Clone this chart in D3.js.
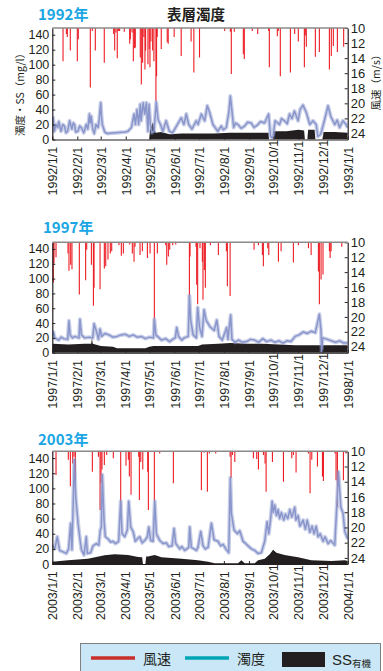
<!DOCTYPE html>
<html>
<head>
<meta charset="utf-8">
<script src="https://cdn.jsdelivr.net/npm/d3@7"></script>
<style>
  body { margin: 0; background: #fff; }
  svg { display: block; }
</style>
</head>
<body>
<div id="chart"></div>
<script>
// ---- data (day of year, value) ----
const turbTicks = [0, 20, 40, 60, 80, 100, 120, 140];
const windTicks = [10, 12, 14, 16, 18, 20, 22, 24];

const wind1992 = [[13.3,14.4],[17.4,10.8],[18.6,11.2],[22.3,13.0],[31,14.4],[32.2,11.5],[47.1,17.9],[49.6,10.4],[53.3,13.0],[64.4,14.6],[76,10.8],[77.3,13.0],[78.9,10.6],[80.5,14.0],[82.2,10.4],[83.4,10.4],[89.2,10.5],[95.9,12.1],[96.7,11.5],[98.8,10.6],[100.4,14.4],[102,12.7],[102.8,12.6],[109,13.9],[110.3,17.5],[111.9,14.6],[113.5,11.2],[114.8,15.5],[115.6,13.0],[118.5,14.8],[120.1,12.8],[121,15.2],[122.2,11.8],[124.3,13.0],[125.9,14.4],[128.4,19.7],[129.2,16.4],[130,11.2],[135,12.8],[142.4,11.9],[143.6,12.1],[151,11.2],[159.7,13.7],[172,11.8],[175.4,15.9],[182.4,13.9],[213.6,10.4],[220.6,10.5],[221.8,16.1],[225.5,10.5],[236.7,13.5],[237.9,14.1],[247.8,10.4],[254.5,10.8],[268.1,10.4],[268.9,15.2],[278.8,11.1],[280,10.4],[282.5,16.4],[295,15.9],[300.3,10.8],[304.8,11.8],[312.3,15.2],[313.5,11.0],[314.7,12.5],[325.9,13.8],[330.9,13.2],[343.3,15.5],[345.7,13.7],[348.2,12.4],[353.2,13.2],[361,12.5]];
const turb1992 = [[0,20],[1,29],[2.5,11],[4.6,20],[6.7,16],[8,24],[10.8,11],[13,20],[15,18],[17,9],[19,11],[21.4,25],[24.3,14],[26,22],[27.6,20],[29,10],[31.7,11],[34,18],[35.9,16],[39,9],[42,20],[44,14],[46,34],[47,22],[48.3,31],[50,14],[52,8],[54,20],[56.7,16],[58,26],[60,49],[61,30],[62,20],[65,10],[68,8],[90,10],[93.8,11],[98,16],[100,27],[101.3,34],[103,20],[105,40],[107,20],[109,47],[110,25],[112.5,49],[114.5,34],[116.5,49],[118.5,11],[119.8,47],[121.5,20],[123.5,9],[126,11],[128.8,50],[131,27],[134,20],[137,11],[141,25],[145,11],[149,9],[155,20],[159.7,29],[163,20],[166,34],[169,20],[173,14],[178.4,25],[180.5,20],[184.7,34],[188.8,25],[192,45],[195,36],[199,20],[205,11],[209.4,18],[212,13],[215.6,16],[218.9,38],[220.6,58],[222.6,38],[224.7,16],[227,22],[230,20],[234,15],[238.3,18],[242,23],[246.5,22],[250,16],[254.8,20],[258,24],[263,22],[268,34],[270.4,4],[273.3,2],[276,25],[281.5,20],[284,28],[287.7,25],[291,21],[293.9,34],[297,28],[300,38],[304.5,25],[307,40],[310.6,46],[314.7,36],[319,20],[323,25],[327,20],[329,4],[332.6,7],[337.5,27],[341.6,45],[345,31],[350,20],[353,26],[356,16],[360,25],[364,20],[366,16]];
const ss1992 = [[0,0],[120,0],[121,12],[123,18],[124.7,23],[126,15],[128,9],[135,10],[145,7],[160,8],[180,8],[200,8],[220,9],[240,9],[260,9],[268,9],[268.5,0],[274.5,0],[275,11],[290,11],[305,13],[312,12],[313,0],[316,0],[317,13],[325,13],[326,0],[335,0],[336,10],[350,10],[366,9]];

const wind1997 = [[1.3,15.4],[2.1,12.8],[4.6,12.0],[19.4,11.5],[20.6,13.8],[22.7,13.0],[24.3,13.6],[33.4,17.0],[41.2,15.1],[42.5,11.0],[48.3,13.0],[50.8,18.5],[51.6,16.1],[59,16.3],[64.3,13.5],[66,13.2],[68.8,12.3],[71.7,11.5],[73.4,11.2],[82.4,10.4],[85.3,11.8],[87.8,11.5],[95.6,10.3],[98.9,11.5],[101,12.6],[102.2,10.6],[108.4,11.7],[111.3,11.2],[117.5,12.1],[120.8,11.5],[126.1,21.4],[129.8,11.5],[140.1,10.4],[141.4,13.0],[143.4,11.9],[145.1,11.0],[148.8,10.4],[152.5,10.3],[155.4,10.1],[169.4,17.9],[170.2,11.9],[177.6,10.6],[178.4,15.7],[179.6,18.3],[182.5,10.8],[185.4,12.6],[186.2,17.7],[187.9,13.7],[189.1,16.1],[195.3,10.4],[205.2,11.7],[215.1,11.2],[216.3,15.9],[219.7,17.2],[249.3,11.0],[254.7,10.4],[256.3,10.1],[259.6,11.7],[260.8,13.2],[266.2,10.8],[267.5,11.7],[279.4,12.6],[282.7,11.2],[297.9,12.7],[304.1,10.4],[316.5,10.8],[319.8,11.7],[328.8,13.9],[330,18.3],[332.1,15.0],[334.5,14.3],[342.4,11.2],[343.3,12.1],[344.5,11.2],[357.7,10.6]];
const turb1997 = [[0,22],[1.3,28],[3,20],[8,17],[11,21],[14,19],[19,18],[20.6,43],[22,24],[25,20],[28,22],[33,20],[34.2,45],[36,24],[40,20],[45,21],[50,20],[51.6,39],[55,27],[57,18],[59,32],[61,22],[65,26],[70,24],[75,21],[80,22],[85,24],[90,25],[95,22],[100,24],[105,21],[110,22],[115,19],[120,21],[125,20],[126.1,45],[128,24],[132,20],[135,17],[140,19],[145,15],[150,19],[152,20],[153.7,34],[156,22],[160,17],[163,20],[168,22],[169.4,77],[171,44],[174,24],[178,20],[179.6,61],[182,34],[185,22],[187.5,58],[190,44],[195,35],[200,30],[203.2,44],[206,22],[210,17],[215.5,34],[217,18],[220.4,51],[222,18],[226,14],[230,17],[235,14],[240,15],[245,18],[250,17],[255,14],[260,19],[265,15],[270,17],[275,14],[280,16],[285,13],[290,16],[295,15],[300,22],[305,24],[310,28],[315,26],[320,29],[325,27],[330,52],[332,30],[332.8,1],[334,20],[340,18],[345,16],[350,14],[355,16],[360,13],[365,13]];
const ss1997 = [[0,12],[20,11],[40,12],[48,12],[49,20],[50,12],[60,9],[75,8],[80,6],[115,6],[120,8],[125,9],[150,9],[180,9],[185,11],[205,12],[220,13],[240,12],[260,12],[280,11],[300,10],[330,10],[365,10]];

const wind2003 = [[0.1,10.3],[4.6,13.1],[19.8,11.1],[22.3,14.6],[25.2,11.6],[26.8,10.7],[28.5,14.0],[49.5,12.7],[57,10.7],[59,17.7],[60.2,14.2],[61.4,12.4],[64.3,11.8],[67.2,10.5],[75.4,10.9],[84.5,17.5],[91.1,11.9],[94,11.1],[95.2,13.3],[97.3,15.7],[106.8,10.7],[107.6,16.4],[109.3,11.4],[111.8,12.4],[117.9,12.7],[118.7,17.7],[126.1,16.5],[132.7,10.3],[149.6,14.2],[184.2,15.1],[187.5,10.2],[191.6,15.3],[194.1,10.3],[201.9,10.3],[219.7,10.7],[220.9,13.5],[222.6,10.5],[225.5,11.4],[248.5,10.9],[252.6,11.0],[254.7,12.4],[260.9,10.5],[262.9,11.6],[264.2,15.3],[272,11.4],[285.6,14.0],[295.9,10.9],[297.9,10.5],[301.2,12.8],[316.5,10.3],[318.5,15.5],[320.6,11.1],[327.6,12.0],[333.8,13.3],[335,13.9],[349.4,10.3],[350.6,13.8],[352.3,17.3],[359.7,13.8],[363,10.3]];
const turb2003 = [[0,25],[3,20],[6.2,36],[9,18],[13.2,16],[17.3,14],[20.2,20],[22.7,54],[24.3,19],[27.2,138],[28.9,89],[31.8,54],[33.8,36],[35.9,19],[39.2,12],[42,36],[43.3,14],[47.4,15],[50.3,24],[54.4,27],[57.4,25],[59.3,45],[60.6,49],[61.8,118],[63.9,58],[65.5,36],[68.9,33],[72,29],[75,30],[78,27],[82,30],[84.5,83],[86.2,40],[89.5,36],[92.7,45],[94.4,83],[96.9,49],[99.8,43],[102.6,30],[105,33],[108,36],[111,28],[114.2,31],[117.4,36],[119.2,49],[121.6,31],[124.5,30],[126.6,83],[128.6,40],[132.8,31],[137,27],[140.9,28],[144,23],[148,24],[150.4,47],[152.5,27],[157.5,20],[160,23],[163.7,18],[168.6,22],[169.8,49],[171.8,22],[175,20],[178,18],[180,22],[183.4,43],[186.3,24],[189,20],[192.5,22],[196.6,54],[199.9,32],[204.8,30],[208,24],[211,26],[215,19],[218,15],[220,114],[221.3,67],[224.6,45],[228.7,40],[231.6,44],[235.7,30],[239,27],[241.9,24],[246,20],[250.2,18],[254,14],[258.3,15],[262.5,30],[265.4,56],[267.5,40],[270,62],[271.6,83],[273,68],[274.9,78],[277,64],[279,72],[281,60],[283.1,68],[286,58],[288,66],[291,60],[293.4,72],[296,62],[299.6,75],[301,58],[303.7,64],[306,50],[309.9,58],[312.7,46],[315,58],[318.2,42],[321,50],[323.5,40],[326,50],[328.4,36],[331,40],[334.6,30],[337,36],[340.8,27],[344,31],[349,25],[352.3,92],[353.5,122],[356.5,75],[359.3,67],[361.4,43],[365,33]];
const ss2003 = [[0,3],[19.4,5],[44,7],[64.7,11.5],[77,13],[93.6,12],[106,9.4],[111,9],[112,0],[115,0],[116,10],[118.3,10],[126.6,12],[134.8,9],[159.5,7],[180,5],[192.5,3],[200.7,1],[229.5,1],[233.6,5],[237.8,1],[250,1],[254.3,5],[262.5,7],[268.7,13],[272.8,19],[277,15],[287,12],[303.7,9],[320,5],[345,4],[361.4,5],[365,4]];

// ---- layout ----
const W = 383, H = 671;
const left = 52.3, right = 347.7;
const numFont = "'Liberation Sans', Arial, Helvetica, sans-serif";
const jpFont = "'Noto Sans CJK JP', 'Noto Sans', sans-serif";
const colWind = "#ed1c24", colTurb = "#8a96cb", colSS = "#231f20", colTitle = "#1aa6e4";

const svg = d3.select("#chart").append("svg")
    .attr("width", W)
    .attr("height", H);

const panels = [
    {year: 1992, wind: wind1992, turb: turb1992, ss: ss1992, top: 28, bottom: 139.5, titleX: 38, titleY: 20},
    {year: 1997, wind: wind1997, turb: turb1997, ss: ss1997, top: 242.3, bottom: 352.7, titleX: 43, titleY: 233},
    {year: 2003, wind: wind2003, turb: turb2003, ss: ss2003, top: 451.3, bottom: 564, titleX: 38, titleY: 445}
];

function drawPanel(p, i) {
    const start = Date.UTC(p.year, 0, 1), end = Date.UTC(p.year + 1, 0, 1);
    const day = d => new Date(start + d[0] * 864e5);
    const x = d3.scaleUtc().domain([new Date(start), new Date(end)]).range([left, right]);
    const yL = d3.scaleLinear().domain([0, 149]).range([p.bottom, p.top]);
    const yR = d3.scaleLinear().domain([10, 24.8]).range([p.top, p.bottom]);

    const g = svg.append("g");
    const clipId = "clip" + i;
    g.append("clipPath").attr("id", clipId)
        .append("rect")
        .attr("x", left).attr("y", p.top)
        .attr("width", right - left).attr("height", p.bottom - p.top);

    const plot = g.append("g").attr("clip-path", `url(#${clipId})`);

    // SS (black area)
    plot.append("path")
        .datum(p.ss)
        .attr("d", d3.area().x(d => x(day(d))).y0(yL(0)).y1(d => yL(d[1])))
        .attr("fill", colSS);

    // wind speed bars hanging from the top
    plot.selectAll("line.wind")
        .data(p.wind)
        .join("line")
        .attr("class", "wind")
        .attr("x1", d => x(day(d)))
        .attr("x2", d => x(day(d)))
        .attr("y1", yR(10))
        .attr("y2", d => yR(d[1]))
        .attr("stroke", colWind)
        .attr("stroke-width", 1.1);

    // turbidity: soft wide stroke under a thinner one, like the dense hourly trace
    const turbLine = d3.line().x(d => x(day(d))).y(d => yL(d[1]));
    plot.append("path")
        .datum(p.turb)
        .attr("d", turbLine)
        .attr("fill", "none")
        .attr("stroke", colTurb)
        .attr("stroke-opacity", 0.45)
        .attr("stroke-width", 4)
        .attr("stroke-linejoin", "round");
    plot.append("path")
        .datum(p.turb)
        .attr("d", turbLine)
        .attr("fill", "none")
        .attr("stroke", colTurb)
        .attr("stroke-width", 1.5)
        .attr("stroke-linejoin", "round");

    // axes
    const axL = g.append("g")
        .attr("transform", `translate(${left},0)`)
        .call(d3.axisLeft(yL).tickValues(turbTicks).tickSize(-3).tickSizeOuter(0).tickPadding(3));
    const axR = g.append("g")
        .attr("transform", `translate(${right},0)`)
        .call(d3.axisRight(yR).tickValues(windTicks).tickSize(-3).tickSizeOuter(0).tickPadding(3));
    const axB = g.append("g")
        .attr("transform", `translate(0,${p.bottom})`)
        .call(d3.axisBottom(x).ticks(d3.utcMonth.every(1)).tickFormat(d3.utcFormat("%Y/%-m/%-d"))
            .tickSize(-3).tickSizeOuter(0));

    [axL, axR, axB].forEach(a => {
        a.selectAll("path.domain").attr("stroke", "#231f20").attr("stroke-width", 1.2);
        a.selectAll(".tick line").attr("stroke", "#231f20");
        a.selectAll("text").attr("fill", "#231f20").style("font-family", numFont);
    });
    axL.selectAll("text").style("font-size", "12.5px");
    axR.selectAll("text").style("font-size", "13px");
    axB.selectAll("text")
        .style("font-size", "12.5px")
        .attr("text-anchor", "start")
        .attr("x", 0).attr("y", 0).attr("dy", "0.36em")
        .attr("transform", "translate(0,56) rotate(-90)");

    // gray top edge of the frame
    g.append("line")
        .attr("x1", left).attr("x2", right)
        .attr("y1", p.top).attr("y2", p.top)
        .attr("stroke", "#8a8a8a").attr("stroke-width", 1.6);

    // year title
    g.append("text")
        .attr("x", p.titleX).attr("y", p.titleY)
        .attr("fill", colTitle)
        .style("font-family", jpFont)
        .style("font-weight", "bold")
        .style("font-size", "15px")
        .text(p.year + "年");
}

panels.forEach(drawPanel);

// main title and axis titles (first panel)
svg.append("text")
    .attr("x", 196).attr("y", 20)
    .attr("text-anchor", "middle")
    .attr("fill", "#231f20")
    .style("font-family", jpFont)
    .style("font-weight", "bold")
    .style("font-size", "14.5px")
    .text("表層濁度");

svg.append("text")
    .attr("transform", "translate(19,92) rotate(-90)")
    .attr("text-anchor", "middle")
    .attr("dominant-baseline", "central")
    .attr("fill", "#231f20")
    .style("font-family", jpFont)
    .style("font-size", "10.5px")
    .text("濁度・SS（mg/l）");

svg.append("text")
    .attr("transform", "translate(375,80) rotate(-90)")
    .attr("text-anchor", "middle")
    .attr("dominant-baseline", "central")
    .attr("fill", "#231f20")
    .style("font-family", jpFont)
    .style("font-size", "10.5px")
    .text("風速（m/s）");

// legend
const lg = svg.append("g");
lg.append("rect")
    .attr("x", 80.5).attr("y", 643.5)
    .attr("width", 300).attr("height", 40)
    .attr("fill", "#c9e7f7")
    .attr("stroke", "#808080");

const legendItems = [
    {label: "風速", color: "#c9302c", x: 91},
    {label: "濁度", color: "#00a5b5", x: 185}
];
legendItems.forEach(it => {
    lg.append("line")
        .attr("x1", it.x).attr("x2", it.x + 44)
        .attr("y1", 658).attr("y2", 658)
        .attr("stroke", it.color).attr("stroke-width", 3.5);
    lg.append("text")
        .attr("x", it.x + 52).attr("y", 664)
        .attr("fill", "#231f20")
        .style("font-family", jpFont)
        .style("font-size", "14px")
        .text(it.label);
});
lg.append("rect")
    .attr("x", 282).attr("y", 652)
    .attr("width", 43).attr("height", 15)
    .attr("fill", colSS);
const ssText = lg.append("text")
    .attr("x", 332).attr("y", 665)
    .attr("fill", "#231f20")
    .style("font-family", numFont)
    .style("font-size", "15px");
ssText.append("tspan").text("SS");
ssText.append("tspan")
    .attr("dy", 2)
    .style("font-family", jpFont)
    .style("font-size", "9.5px")
    .text("有機");
</script>
</body>
</html>
